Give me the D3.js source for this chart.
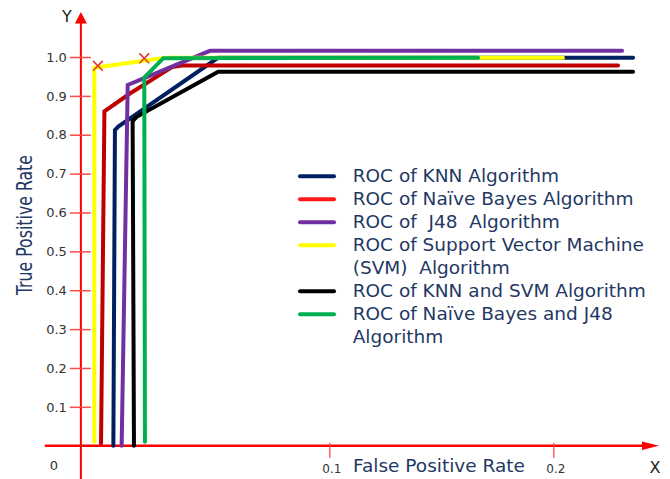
<!DOCTYPE html>
<html>
<head>
<meta charset="utf-8">
<script src="https://cdn.jsdelivr.net/npm/d3@7"></script>
<style>
  body { margin: 0; background: #fff; }
  svg { display: block; }
</style>
</head>
<body>
<svg id="chart" width="670" height="479"></svg>
<script>
// ROC points: false positive rate / true positive rate
const knnFpr = [0.0036, 0.0043, 0.0058, 0.0503, 0.2356];
const knnTpr = [0, 0.812, 0.821, 0.998, 0.998];

const nbFpr = [-0.0019, -0.0004, 0.011, 0.0298, 0.0342, 0.2289];
const nbTpr = [0.006, 0.86, 0.906, 0.974, 0.978, 0.978];

const j48Fpr = [0.0073, 0.010, 0.0155, 0.0467, 0.2307];
const j48Tpr = [0, 0.928, 0.941, 1.016, 1.016];

const svmFpr = [-0.0049, -0.0049, 0.0267, 0.2043];
const svmTpr = [0.010, 0.9725, 0.998, 0.998];

const knnSvmFpr = [0.0128, 0.0122, 0.014, 0.0504, 0.2356];
const knnSvmTpr = [0, 0.835, 0.846, 0.962, 0.962];

const nbJ48Fpr = [0.0177, 0.0174, 0.0259, 0.1664];
const nbJ48Tpr = [0.010, 0.947, 0.997, 0.998];

// the two red "x" marks on the SVM curve
const svmMarkFpr = [-0.0033, 0.0174];
const svmMarkTpr = [0.9774, 0.9967];

const yTicks = [0.1, 0.2, 0.3, 0.4, 0.5, 0.6, 0.7, 0.8, 0.9, 1.0];
const xTicks = [0.1, 0.2];

const legendLabels = [
  ["ROC of KNN Algorithm"],
  ["ROC of Naïve Bayes Algorithm"],
  ["ROC of  J48  Algorithm"],
  ["ROC of Support Vector Machine", "(SVM)  Algorithm"],
  ["ROC of KNN and SVM Algorithm"],
  ["ROC of Naïve Bayes and J48", "Algorithm"]
];
const legendColors = ["#002060", "#ff1a1a", "#7030a0", "#ffff00", "#000000", "#00b050"];

const series = [
  { name: "knn", fpr: knnFpr, tpr: knnTpr, color: "#002060" },
  { name: "knnSvm", fpr: knnSvmFpr, tpr: knnSvmTpr, color: "#000000" },
  { name: "nb", fpr: nbFpr, tpr: nbTpr, color: "#c00000" },
  { name: "j48", fpr: j48Fpr, tpr: j48Tpr, color: "#7030a0" },
  { name: "svm", fpr: svmFpr, tpr: svmTpr, color: "#ffff00" },
  { name: "nbJ48", fpr: nbJ48Fpr, tpr: nbJ48Tpr, color: "#00b050" }
];

const svg = d3.select("#chart");
const axisRed = "#ff0000";
const textBlue = "#1f3864";

const xScale = d3.scaleLinear().domain([0, 0.2]).range([105.3, 553.3]);
const yScale = d3.scaleLinear().domain([0, 1]).range([445.7, 57]);

// where the axes sit / end, in data units
const yAxisAt = -0.0109;
const xAxisFrom = -0.027, xAxisTo = 0.2472;
const yAxisFrom = -0.086, yAxisTo = 1.116;

const ax = xScale(yAxisAt);
const ay = yScale(0);

// axis lines
svg.append("line")
  .attr("x1", xScale(xAxisFrom)).attr("x2", xScale(xAxisTo) - 10)
  .attr("y1", ay).attr("y2", ay)
  .attr("stroke", axisRed).attr("stroke-width", 2.6);
svg.append("path")
  .attr("d", `M${xScale(xAxisTo)},${ay} l-17,-4.2 l0,8.4 z`)
  .attr("fill", axisRed);

svg.append("line")
  .attr("x1", ax).attr("x2", ax)
  .attr("y1", yScale(yAxisFrom)).attr("y2", yScale(yAxisTo) + 8)
  .attr("stroke", axisRed).attr("stroke-width", 2);
svg.append("path")
  .attr("d", `M${ax},${yScale(yAxisTo)} l-6,11.5 l12,0 z`)
  .attr("fill", axisRed);

// y ticks cross the axis
const yAxisG = svg.append("g")
  .attr("transform", `translate(${ax},0)`)
  .call(d3.axisLeft(yScale).tickValues(yTicks).tickFormat(d3.format(".1f"))
    .tickSize(11).tickPadding(3));
yAxisG.select(".domain").remove();
yAxisG.selectAll(".tick line")
  .attr("x1", 10).attr("stroke", "#ff4a4a").attr("stroke-width", 1.5);
yAxisG.selectAll(".tick text")
  .attr("fill", "#333").style("font-family", "DejaVu Sans").style("font-size", "13px");

const xAxisG = svg.append("g")
  .attr("transform", `translate(0,${ay})`)
  .call(d3.axisBottom(xScale).tickValues(xTicks).tickFormat(d3.format(".1f"))
    .tickSize(12));
xAxisG.select(".domain").remove();
xAxisG.selectAll(".tick line")
  .attr("y1", -3).attr("stroke", "#ff4a4a").attr("stroke-width", 1.3);
xAxisG.selectAll(".tick text")
  .attr("y", 27).attr("dy", 0).attr("dx", 2)
  .attr("fill", "#333").style("font-family", "DejaVu Sans").style("font-size", "12px");

svg.append("text")
  .attr("x", ax - 27).attr("y", ay + 24)
  .attr("text-anchor", "middle")
  .attr("fill", "#333").style("font-family", "DejaVu Sans").style("font-size", "13px")
  .text("0");

// axis letters and titles
svg.append("text")
  .attr("x", ax - 14).attr("y", yScale(yAxisTo) + 10)
  .attr("text-anchor", "middle")
  .attr("fill", "#222").style("font-family", "DejaVu Sans").style("font-size", "16px")
  .text("Y");
svg.append("text")
  .attr("x", xScale(xAxisTo) - 4).attr("y", ay + 27)
  .attr("text-anchor", "middle")
  .attr("fill", "#222").style("font-family", "DejaVu Sans").style("font-size", "16px")
  .text("X");

svg.append("text")
  .attr("x", 353).attr("y", 471.5)
  .attr("fill", textBlue).style("font-family", "DejaVu Sans").style("font-size", "18.5px")
  .text("False Positive Rate");

svg.append("text")
  .attr("transform", "translate(31.5,225) rotate(-90)")
  .attr("text-anchor", "middle")
  .attr("textLength", 140).attr("lengthAdjust", "spacingAndGlyphs")
  .attr("fill", textBlue)
  .style("font-family", "'Liberation Sans Narrow', 'DejaVu Sans Condensed', sans-serif")
  .style("font-size", "21px")
  .text("True Positive Rate");

// ROC curves
const line = d3.line()
  .x(d => xScale(d[0]))
  .y(d => yScale(d[1]));

svg.append("g").selectAll("path")
  .data(series)
  .join("path")
  .attr("d", s => line(s.fpr.map((f, i) => [f, s.tpr[i]])))
  .attr("fill", "none")
  .attr("stroke", s => s.color)
  .attr("stroke-width", 4)
  .attr("stroke-linecap", "round")
  .attr("stroke-linejoin", "miter");

svg.append("g").selectAll("path")
  .data(svmMarkFpr.map((f, i) => [f, svmMarkTpr[i]]))
  .join("path")
  .attr("transform", d => `translate(${xScale(d[0])},${yScale(d[1])})`)
  .attr("d", d3.symbol(d3.symbolTimes, 64))
  .attr("fill", "none")
  .attr("stroke", "#e8302a")
  .attr("stroke-width", 1.5);

// legend
const legendX = 300, legendLineEnd = 334, legendTextX = 352.7;
const firstBaseline = 182.3, lineStep = 23;
let row = 0;
const legend = svg.append("g")
  .style("font-family", "DejaVu Sans").style("font-size", "18.5px");
legendLabels.forEach((lines, i) => {
  const base = firstBaseline + row * lineStep;
  legend.append("line")
    .attr("x1", legendX).attr("x2", legendLineEnd)
    .attr("y1", base - 6).attr("y2", base - 6)
    .attr("stroke", legendColors[i]).attr("stroke-width", 4)
    .attr("stroke-linecap", "round");
  lines.forEach((t, j) => {
    legend.append("text")
      .attr("x", legendTextX).attr("y", base + j * lineStep)
      .attr("fill", textBlue)
      .attr("xml:space", "preserve")
      .style("white-space", "pre")
      .text(t);
  });
  row += lines.length;
});
</script>
</body>
</html>
